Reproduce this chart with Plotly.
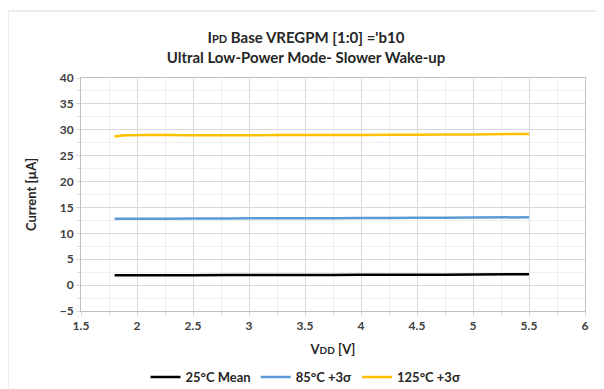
import plotly.graph_objects as go

vdd = [1.8, 1.9, 2.5, 3.0, 3.5, 4.0, 4.5, 5.0, 5.5]
i_25c_mean = [1.9, 1.9, 1.9, 1.95, 1.95, 2.0, 2.0, 2.05, 2.1]
i_85c_3s = [12.8, 12.8, 12.85, 12.9, 12.9, 12.95, 13.0, 13.05, 13.1]
i_125c_3s = [28.7, 28.95, 28.95, 28.95, 29.0, 29.0, 29.05, 29.1, 29.2]

series = [
    ("25°C Mean", i_25c_mean, "#000000"),
    ("85°C +3σ", i_85c_3s, "#5b9bd5"),
    ("125°C +3σ", i_125c_3s, "#ffc000"),
]

FONT = "Lato, Open Sans, sans-serif"
W, H = 596, 381
L, R, T, B = 73, 19, 70, 78
PW, PH = W - L - R, H - T - B

fig = go.Figure()
for name, ys, color in series:
    fig.add_trace(go.Scatter(x=vdd, y=ys, mode="lines", name=name,
                             line=dict(color=color, width=2.5, shape="spline")))

fig.update_layout(
    width=W, height=H,
    margin=dict(l=L, r=R, t=T, b=B, autoexpand=False),
    paper_bgcolor="white", plot_bgcolor="white",
    font=dict(family=FONT, color="#262626"),
    title=dict(
        text="<b>I<span style='font-size:11px'>PD</span> Base VREGPM [1:0] ='b10<br>Ultral Low-Power Mode- Slower Wake-up</b>",
        x=0.5, xanchor="center", xref="container", y=1 - 35 / H, yanchor="middle", yref="container",
        font=dict(size=15, family=FONT, color="#262626"),
    ),
    showlegend=True,
    legend=dict(orientation="h", x=0.5, xanchor="center", xref="container",
                y=12 / H, yanchor="middle", yref="container",
                font=dict(size=13, family=FONT, color="#262626", weight="bold"),
                itemwidth=30, tracegroupgap=0),
    xaxis=dict(
        range=[1.5, 6], dtick=0.5, tick0=1.5,
        showgrid=True, gridcolor="#d9d9d9", gridwidth=1,
        minor=dict(dtick=0.25, showgrid=True, gridcolor="#efefef", ticks="outside", ticklen=3, tickcolor="#d9d9d9"),
        ticks="outside", ticklen=4, tickcolor="#d9d9d9",
        showline=True, linecolor="#bfbfbf", linewidth=1, mirror=True,
        zeroline=False,
        tickfont=dict(size=12, family=FONT, color="#404040", weight="bold"),
        title=dict(text="<b>V<span style='font-size:10px'>DD</span> [V]</b>", font=dict(size=13, family=FONT, color="#262626"), standoff=12),
    ),
    yaxis=dict(
        range=[-5, 40], dtick=5, tick0=-5,
        showgrid=True, gridcolor="#d9d9d9", gridwidth=1,
        minor=dict(dtick=2.5, showgrid=True, gridcolor="#efefef", ticks="outside", ticklen=3, tickcolor="#d9d9d9"),
        ticks="outside", ticklen=4, tickcolor="#d9d9d9",
        showline=True, linecolor="#bfbfbf", linewidth=1, mirror=True,
        zeroline=False,
        tickfont=dict(size=12, family=FONT, color="#404040", weight="bold"),
        title=dict(text="<b>Current [µA]</b>", font=dict(size=13, family=FONT, color="#262626"), standoff=20),
    ),
)

fig.add_shape(type="rect", xref="paper", yref="paper",
              x0=-L / PW, x1=1.3, y0=-0.6, y1=1 + (T - 3) / PH,
              line=dict(color="#d9d9d9", width=1), fillcolor="rgba(0,0,0,0)", layer="below")

fig.write_html("out.html")
